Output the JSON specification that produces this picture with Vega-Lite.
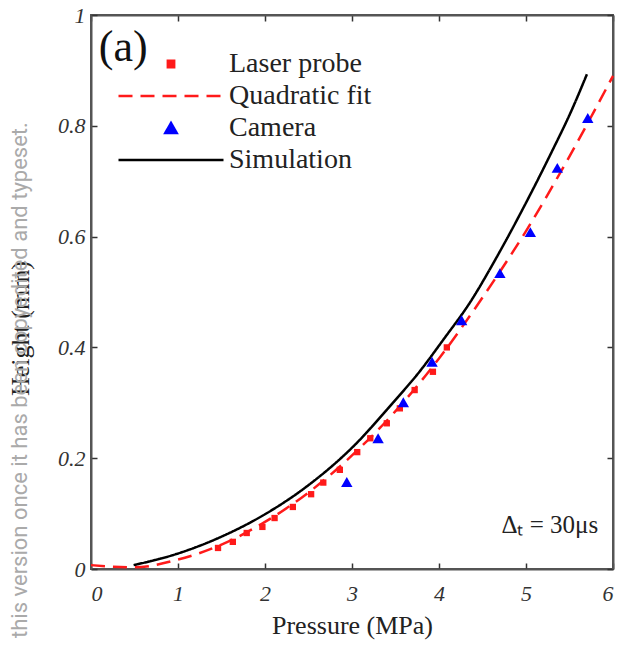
{
  "$schema": "https://vega.github.io/schema/vega-lite/v6.json",
  "width": 522,
  "height": 554,
  "autosize": {"type": "none"},
  "padding": {"left": 91, "top": 15, "right": 9, "bottom": 86},
  "background": "white",
  "config": {
    "font": "Liberation Serif",
    "view": {"stroke": "#555", "strokeWidth": 2},
    "axis": {
      "domainColor": "#555", "domainWidth": 2,
      "tickColor": "#333", "tickSize": -6, "tickWidth": 1.5,
      "grid": false,
      "labelFont": "Liberation Serif", "labelFontStyle": "italic", "labelFontSize": 22, "labelColor": "#333",
      "titleFont": "Liberation Serif", "titleFontSize": 26, "titleFontWeight": "normal", "titleColor": "#222"
    }
  },
  "title": {
    "text": "this version once it has been copyedited and typeset.",
    "orient": "left", "anchor": "start", "frame": "bounds",
    "font": "Roboto", "fontSize": 22, "fontWeight": "normal", "color": "#aaaaaa", "offset": -24
  },
  "datasets": {
    "pts": [
      {"series": "Laser probe", "p": 1.46, "h": 0.038},
      {"series": "Laser probe", "p": 1.63, "h": 0.049},
      {"series": "Laser probe", "p": 1.79, "h": 0.065},
      {"series": "Laser probe", "p": 1.97, "h": 0.076},
      {"series": "Laser probe", "p": 2.11, "h": 0.092},
      {"series": "Laser probe", "p": 2.32, "h": 0.112},
      {"series": "Laser probe", "p": 2.53, "h": 0.135},
      {"series": "Laser probe", "p": 2.67, "h": 0.156},
      {"series": "Laser probe", "p": 2.86, "h": 0.179},
      {"series": "Laser probe", "p": 3.06, "h": 0.211},
      {"series": "Laser probe", "p": 3.21, "h": 0.236},
      {"series": "Laser probe", "p": 3.40, "h": 0.263},
      {"series": "Laser probe", "p": 3.55, "h": 0.290},
      {"series": "Laser probe", "p": 3.72, "h": 0.323},
      {"series": "Laser probe", "p": 3.93, "h": 0.356},
      {"series": "Laser probe", "p": 4.09, "h": 0.400},
      {"series": "Quadratic fit", "p": 0.0, "h": 0.007},
      {"series": "Quadratic fit", "p": 0.5, "h": 0.003},
      {"series": "Quadratic fit", "p": 1.0, "h": 0.017},
      {"series": "Quadratic fit", "p": 1.5, "h": 0.044},
      {"series": "Quadratic fit", "p": 2.0, "h": 0.085},
      {"series": "Quadratic fit", "p": 2.5, "h": 0.138},
      {"series": "Quadratic fit", "p": 3.0, "h": 0.205},
      {"series": "Quadratic fit", "p": 3.5, "h": 0.285},
      {"series": "Quadratic fit", "p": 4.0, "h": 0.380},
      {"series": "Quadratic fit", "p": 4.5, "h": 0.490},
      {"series": "Quadratic fit", "p": 5.0, "h": 0.610},
      {"series": "Quadratic fit", "p": 5.5, "h": 0.745},
      {"series": "Quadratic fit", "p": 6.0, "h": 0.890},
      {"series": "Camera", "p": 2.94, "h": 0.157},
      {"series": "Camera", "p": 3.30, "h": 0.236},
      {"series": "Camera", "p": 3.59, "h": 0.301},
      {"series": "Camera", "p": 3.92, "h": 0.374},
      {"series": "Camera", "p": 4.26, "h": 0.449},
      {"series": "Camera", "p": 4.70, "h": 0.534},
      {"series": "Camera", "p": 5.05, "h": 0.608},
      {"series": "Camera", "p": 5.36, "h": 0.724},
      {"series": "Camera", "p": 5.71, "h": 0.814},
      {"series": "Simulation", "p": 0.49, "h": 0.007},
      {"series": "Simulation", "p": 0.98, "h": 0.027},
      {"series": "Simulation", "p": 1.48, "h": 0.057},
      {"series": "Simulation", "p": 1.98, "h": 0.097},
      {"series": "Simulation", "p": 2.48, "h": 0.149},
      {"series": "Simulation", "p": 3.02, "h": 0.222},
      {"series": "Simulation", "p": 3.47, "h": 0.300},
      {"series": "Simulation", "p": 3.78, "h": 0.357},
      {"series": "Simulation", "p": 4.05, "h": 0.414},
      {"series": "Simulation", "p": 4.36, "h": 0.482},
      {"series": "Simulation", "p": 4.66, "h": 0.562},
      {"series": "Simulation", "p": 4.97, "h": 0.652},
      {"series": "Simulation", "p": 5.28, "h": 0.748},
      {"series": "Simulation", "p": 5.53, "h": 0.830},
      {"series": "Simulation", "p": 5.70, "h": 0.893}
    ],
    "notes": [
      {"note": "(a)"}
    ],
    "notes2": [
      {"note": "Δₜ = 30μs"}
    ]
  },
  "data": {"name": "pts"},
  "resolve": {"axis": {"x": "independent", "y": "independent"}},
  "layer": [
    {
      "transform": [{"filter": "datum.series === 'Simulation'"}],
      "mark": {"type": "line", "strokeWidth": 2.5, "interpolate": "monotone"},
      "encoding": {
        "x": {"field": "p", "type": "quantitative", "scale": {"domain": [0, 6], "nice": false},
              "axis": {"values": [0, 1, 2, 3, 4, 5, 6], "title": "Pressure (MPa)", "labelPadding": 20, "titlePadding": 8}},
        "y": {"field": "h", "type": "quantitative", "scale": {"domain": [0, 1], "nice": false},
              "axis": {"values": [0, 0.2, 0.4, 0.6, 0.8, 1], "format": ".1~f", "title": "Height (mm)", "labelPadding": 12, "titlePadding": 24, "titleY": 313}},
        "color": {"field": "series", "type": "nominal",
                  "scale": {"domain": ["Laser probe", "Quadratic fit", "Camera", "Simulation"], "range": ["#ff1a1a", "#ff1a1a", "#0000ff", "#000000"]},
                  "legend": {"title": null, "orient": "none", "legendX": 66, "legendY": 35, "labelFontSize": 28, "labelFont": "Liberation Serif", "labelColor": "#222", "labelOffset": 44, "rowPadding": 4, "symbolStrokeWidth": 2.5}},
        "strokeDash": {"field": "series", "type": "nominal",
                  "scale": {"domain": ["Laser probe", "Quadratic fit", "Camera", "Simulation"], "range": [[1, 0], [14, 8], [1, 0], [1, 0]]}}
      }
    },
    {
      "transform": [{"filter": "datum.series === 'Quadratic fit'"}],
      "mark": {"type": "line", "strokeWidth": 2.5, "interpolate": "monotone"},
      "encoding": {
        "x": {"field": "p", "type": "quantitative", "axis": {"orient": "top", "values": [0, 1, 2, 3, 4, 5, 6], "labels": false, "title": null}},
        "y": {"field": "h", "type": "quantitative", "axis": {"orient": "right", "values": [0, 0.2, 0.4, 0.6, 0.8, 1], "labels": false, "title": null}},
        "color": {"field": "series", "type": "nominal"},
        "strokeDash": {"field": "series", "type": "nominal"}
      }
    },
    {
      "transform": [{"filter": "datum.series === 'Laser probe' || datum.series === 'Camera'"}],
      "mark": {"type": "point", "filled": true, "opacity": 1},
      "encoding": {
        "x": {"field": "p", "type": "quantitative", "axis": null},
        "y": {"field": "h", "type": "quantitative", "axis": null},
        "color": {"field": "series", "type": "nominal"},
        "shape": {"field": "series", "type": "nominal",
                  "scale": {"domain": ["Laser probe", "Quadratic fit", "Camera", "Simulation"], "range": ["square", "M-15,0H15", "triangle-up", "M-15,0H15"]}},
        "size": {"field": "series", "type": "ordinal", "legend": null,
                 "scale": {"type": "ordinal", "domain": ["Laser probe", "Quadratic fit", "Camera", "Simulation"], "range": [40, 49, 130, 49]}}
      }
    },
    {
      "data": {"name": "notes"},
      "mark": {"type": "text", "fontSize": 44, "font": "Liberation Serif", "fill": "#111", "align": "center", "baseline": "middle"},
      "encoding": {
        "x": {"datum": 0.37, "type": "quantitative", "axis": null},
        "y": {"datum": 0.94, "type": "quantitative", "axis": null},
        "text": {"field": "note"}
      }
    },
    {
      "data": {"name": "notes2"},
      "mark": {"type": "text", "fontSize": 25, "font": "Liberation Serif", "fill": "#222", "align": "right", "baseline": "middle"},
      "encoding": {
        "x": {"datum": 5.83, "type": "quantitative", "axis": null},
        "y": {"datum": 0.079, "type": "quantitative", "axis": null},
        "text": {"field": "note"}
      }
    }
  ]
}
